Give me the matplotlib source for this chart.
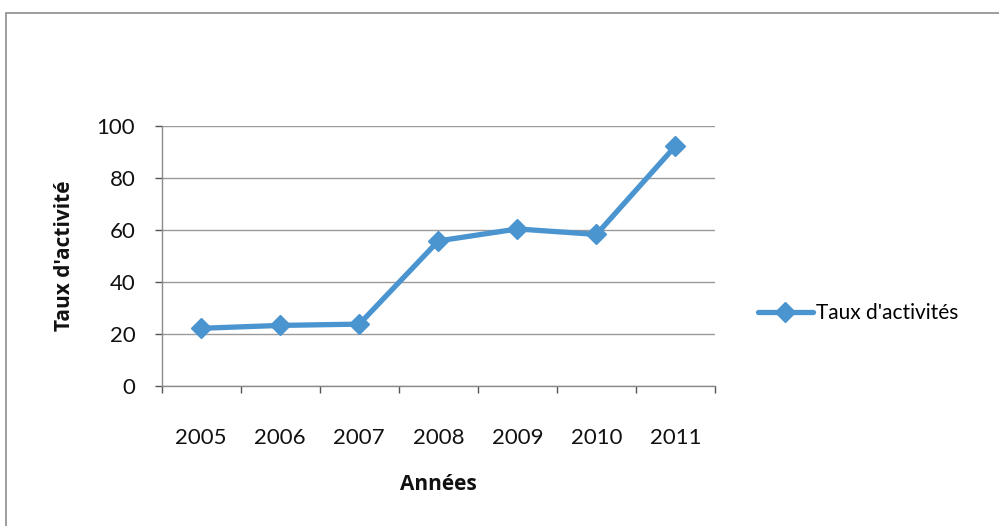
import matplotlib
matplotlib.use("Agg")
import matplotlib.pyplot as plt
from matplotlib.patches import Rectangle
from matplotlib.ticker import FixedLocator

years = ["2005", "2006", "2007", "2008", "2009", "2010", "2011"]
taux = [22.2, 23.3, 23.8, 55.8, 60.4, 58.3, 92.3]
yticks = [0, 20, 40, 60, 80, 100]
series_name = "Taux d'activités"
ylabel = "Taux d'activité"
xlabel = "Années"

plt.rcParams['font.family'] = ['Lato', 'DejaVu Sans']

W, H = 999, 526
fig = plt.figure(figsize=(W / 100, H / 100), dpi=100)
fig.patch.set_facecolor("white")

# outer chart frame
fig.add_artist(Rectangle((6 / W, -0.05), 1.1, 1 - 13 / H + 0.05, transform=fig.transFigure,
                         fill=False, edgecolor="#8c8c8c", linewidth=1.2))

ax = fig.add_axes([161.7 / W, 1 - 386 / H, (715 - 161.7) / W, (386 - 126) / H])
x = list(range(len(years)))
color = "#4a94d0"
ax.plot(x, taux, color=color, linewidth=3.8, marker="D", markersize=10,
        markerfacecolor=color, markeredgecolor=color, label=series_name, solid_capstyle="round")

ax.set_xlim(-0.5, len(years) - 0.5)
ax.set_ylim(0, 100)
ax.set_yticks(yticks)
ax.set_yticklabels([str(v) for v in yticks])
ax.set_xticks(x)
ax.set_xticklabels(years)
ax.xaxis.set_minor_locator(FixedLocator([i - 0.5 for i in range(len(years) + 1)]))
ax.tick_params(axis="x", which="major", length=0, pad=30, labelsize=16, colors="#111111")
ax.tick_params(axis="x", which="minor", length=5, direction="out", color="#555555", width=1)
ax.tick_params(axis="y", length=5, direction="out", color="#555555", width=1, pad=14,
               labelsize=16, labelcolor="#111111")

ax.grid(axis="y", color="#9a9a9a", linewidth=1)
ax.set_axisbelow(True)
for s in ["top", "right"]:
    ax.spines[s].set_visible(False)
for s in ["left", "bottom"]:
    ax.spines[s].set_color("#8a8a8a")
    ax.spines[s].set_linewidth(1)

fig.text(65 / W, 1 - 256 / H, ylabel, rotation=90, ha="center", va="center",
         fontsize=15, fontweight="bold", color="#111111", family=["Open Sans", "DejaVu Sans"])
fig.text(438 / W, 1 - 485 / H, xlabel, ha="center", va="center",
         fontsize=15, fontweight="bold", color="#111111", family=["Open Sans", "DejaVu Sans"])

fig.legend(loc="center left", bbox_to_anchor=(750 / W, 1 - 313 / H), frameon=False,
           fontsize=15, handlelength=2.6, handletextpad=0.15, borderaxespad=0)

fig.savefig("out.png", dpi=100, facecolor="white")
